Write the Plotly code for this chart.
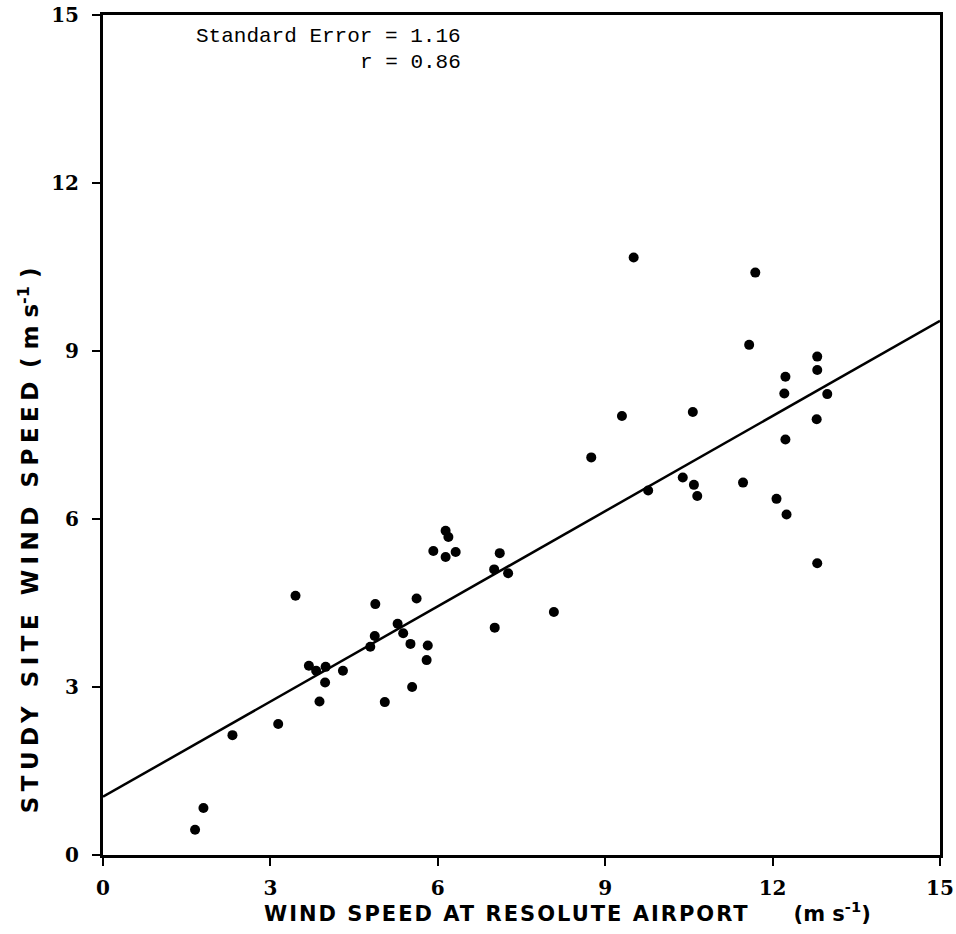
import plotly.graph_objects as go

# Data (wind speed, m s^-1)
airport_speed = [1.80, 1.65, 2.32, 3.14, 3.45, 3.69, 3.82, 3.99, 4.30, 3.98, 3.88,
                 4.79, 4.87, 4.88, 5.05, 5.28, 5.38, 5.51, 5.54, 5.62, 5.80, 5.82,
                 5.92, 6.14, 6.14, 6.19, 6.32, 7.01, 7.02, 7.11, 7.26, 8.08, 8.75,
                 9.30, 9.51, 9.77, 10.39, 10.57, 10.59, 10.65, 11.47, 11.58, 11.69,
                 12.07, 12.21, 12.23, 12.23, 12.25, 12.79, 12.80, 12.80, 12.80, 12.98]
site_speed = [0.84, 0.45, 2.14, 2.34, 4.63, 3.38, 3.29, 3.36, 3.29, 3.08, 2.74,
              3.72, 3.91, 4.48, 2.73, 4.13, 3.96, 3.77, 3.00, 4.58, 3.48, 3.74,
              5.43, 5.79, 5.32, 5.68, 5.41, 5.10, 4.06, 5.39, 5.03, 4.34, 7.10,
              7.84, 10.67, 6.51, 6.74, 7.91, 6.61, 6.41, 6.65, 9.11, 10.40,
              6.36, 8.24, 8.54, 7.42, 6.08, 7.78, 8.90, 8.66, 5.21, 8.23]

# Regression line endpoints
line_x = [0, 15]
line_y = [1.04, 9.54]

tick_vals = [0, 3, 6, 9, 12, 15]
tick_text = ["0", "3", "6", "9", "12", "15"]

stats_lines = ["Standard Error = 1.16", "r = 0.86"]
stats_y = [14.625, 14.15]
x_title = ('<span style="letter-spacing:2px">WIND SPEED AT RESOLUTE AIRPORT</span>'
           '\u00a0\u00a0\u00a0\u00a0\u00a0\u00a0(m s<sup>-1</sup>)')
y_title = ('<span style="letter-spacing:5.5px">STUDY SITE WIND SPEED</span>'
           '\u00a0( m s<sup>-1</sup> )')

fig = go.Figure()
fig.add_trace(go.Scatter(x=line_x, y=line_y, mode="lines",
                         line=dict(color="black", width=2.5), showlegend=False,
                         cliponaxis=False))
fig.add_trace(go.Scatter(x=airport_speed, y=site_speed, mode="markers",
                         marker=dict(color="black", size=10), showlegend=False))

for txt, yy in zip(stats_lines, stats_y):
    fig.add_annotation(x=6.45, y=yy, xref="x", yref="y", xanchor="right", yanchor="middle",
                       align="right", showarrow=False, text=txt,
                       font=dict(family="Liberation Mono", size=21, color="black"))

fig.add_annotation(x=0.555, y=-0.0679, xref="paper", yref="paper",
                   xanchor="center", yanchor="middle", showarrow=False, text=x_title,
                   font=dict(family="DejaVu Sans", size=21, color="black", weight="bold"))
fig.add_annotation(x=-0.089, y=0.374, xref="paper", yref="paper", textangle=-90,
                   xanchor="center", yanchor="middle", showarrow=False, text=y_title,
                   font=dict(family="DejaVu Sans", size=23, color="black", weight="bold"))

axis_common = dict(range=[0, 15], tickvals=tick_vals, ticktext=tick_text,
                   ticks="outside", ticklen=8, tickwidth=2, tickcolor="black",
                   showline=True, linewidth=3, linecolor="black", mirror=True,
                   showgrid=False, zeroline=False, automargin=False,
                   tickfont=dict(family="DejaVu Serif", size=20, color="black", weight="bold"))

fig.update_xaxes(**axis_common, ticklabelstandoff=5)
fig.update_yaxes(**axis_common, ticklabelstandoff=9)

fig.update_layout(width=956, height=934,
                  margin=dict(l=103, r=16, t=15, b=79),
                  plot_bgcolor="white", paper_bgcolor="white")

fig.write_html("out.html")
